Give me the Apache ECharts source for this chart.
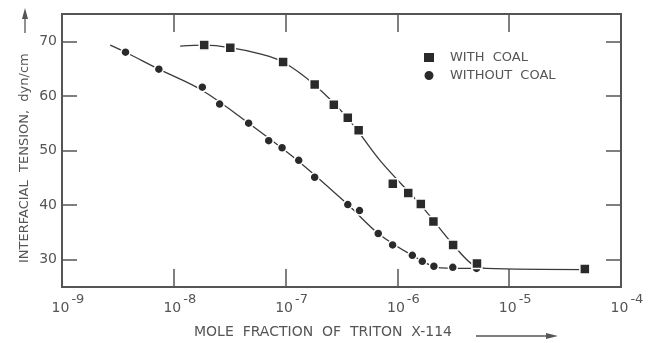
<!DOCTYPE html>
<html>
<head>
<meta charset="utf-8">
<script src="https://cdn.jsdelivr.net/npm/echarts@6/dist/echarts.min.js"></script>
<style>
  html, body { margin: 0; padding: 0; background: #fff; }
  #chart { width: 648px; height: 343px; }
</style>
</head>
<body>
<div id="chart"></div>
<script>
// measured points (mole fraction, dyn/cm)
var withCoalX = [1.87e-8, 3.2e-8, 9.5e-8, 1.82e-7, 2.7e-7, 3.6e-7, 4.5e-7, 9.1e-7, 1.25e-6, 1.62e-6, 2.1e-6, 3.15e-6, 5.15e-6, 4.75e-5];
var withCoalY = [69.3, 68.8, 66.2, 62.1, 58.4, 56.0, 53.7, 43.9, 42.2, 40.2, 37.0, 32.7, 29.3, 28.3];

var withoutCoalX = [3.7e-9, 7.35e-9, 1.8e-8, 2.57e-8, 4.67e-8, 7.06e-8, 9.3e-8, 1.31e-7, 1.82e-7, 3.6e-7, 4.58e-7, 6.74e-7, 9.06e-7, 1.36e-6, 1.67e-6, 2.12e-6, 3.13e-6, 5.1e-6];
var withoutCoalY = [68.0, 64.9, 61.6, 58.5, 55.0, 51.8, 50.5, 48.2, 45.1, 40.1, 39.0, 34.8, 32.7, 30.8, 29.7, 28.8, 28.6, 28.4];

// hand-drawn fitted curves
var withCoalCurveX = [1.14e-8, 1.87e-8, 3.2e-8, 5.9e-8, 9.5e-8, 1.82e-7, 3.6e-7, 7.1e-7, 1.62e-6, 3.14e-6, 4.7e-6, 6.2e-6, 4.75e-5];
var withCoalCurveY = [69.1, 69.3, 68.85, 67.7, 66.2, 62.0, 55.9, 48.0, 40.0, 32.8, 29.1, 28.4, 28.2];

var withoutCoalCurveX = [2.7e-9, 3.7e-9, 7.35e-9, 1.8e-8, 4.67e-8, 1.31e-7, 3.6e-7, 6.74e-7, 1.36e-6, 2.44e-6, 5.1e-6];
var withoutCoalCurveY = [69.3, 68.0, 64.9, 61.0, 55.0, 48.0, 40.1, 34.8, 30.8, 28.5, 28.4];

var yTicks = [30, 40, 50, 60, 70];

function pairs(xs, ys) {
    return xs.map(function (x, i) { return [x, ys[i]]; });
}

var chartDom = document.getElementById('chart');
var chart = echarts.init(chartDom);
var ink = '#2a2a2a';
var grey = '#555';
var font = 'DejaVu Sans';

var option = {
    animation: false,
    textStyle: { fontFamily: font, color: grey },
    grid: {
        left: 62, right: 27, top: 14, bottom: 56,
        show: true,
        borderColor: grey,
        borderWidth: 2
    },
    legend: {
        data: ['WITH  COAL', 'WITHOUT  COAL'],
        orient: 'vertical',
        left: 422,
        top: 51,
        padding: 0,
        itemWidth: 12,
        itemHeight: 11,
        itemGap: 5,
        textStyle: { color: grey, fontSize: 13, padding: [0, 0, 0, 10] }
    },
    xAxis: [{
        type: 'log',
        logBase: 10,
        min: 1e-9,
        max: 1e-4,
        axisLine: { show: false },
        splitLine: { show: false },
        axisTick: { inside: true, length: 18, lineStyle: { color: grey, width: 1.5 } },
        axisLabel: {
            margin: 6,
            formatter: function (v) {
                var e = Math.round(Math.log10(v));
                return '{b|10}{e|' + e + '}';
            },
            rich: {
                b: { fontSize: 14, color: grey, fontFamily: font, lineHeight: 22, verticalAlign: 'bottom', padding: [0, 2, 0, 12] },
                e: { fontSize: 13, color: grey, fontFamily: font, verticalAlign: 'top' }
            }
        }
    }, {
        type: 'log',
        logBase: 10,
        min: 1e-9,
        max: 1e-4,
        position: 'top',
        axisLine: { show: false },
        splitLine: { show: false },
        axisLabel: { show: false },
        axisTick: { inside: true, length: 18, lineStyle: { color: grey, width: 1.5 } }
    }],
    yAxis: [{
        type: 'value',
        min: 25,
        max: 75,
        axisLine: { show: false },
        splitLine: { show: false },
        axisTick: { inside: true, length: 15, customValues: yTicks, lineStyle: { color: grey, width: 1.5 } },
        axisLabel: { customValues: yTicks, fontSize: 14, color: grey, margin: 5 }
    }, {
        type: 'value',
        min: 25,
        max: 75,
        position: 'right',
        axisLine: { show: false },
        splitLine: { show: false },
        axisLabel: { show: false },
        axisTick: { inside: true, length: 15, customValues: yTicks, lineStyle: { color: grey, width: 1.5 } }
    }],
    series: [{
        name: 'with coal curve',
        type: 'line',
        data: pairs(withCoalCurveX, withCoalCurveY),
        smooth: 0.35,
        showSymbol: false,
        silent: true,
        lineStyle: { color: '#3a3a3a', width: 1.3 },
        z: 2
    }, {
        name: 'without coal curve',
        type: 'line',
        data: pairs(withoutCoalCurveX, withoutCoalCurveY),
        smooth: 0.35,
        showSymbol: false,
        silent: true,
        lineStyle: { color: '#3a3a3a', width: 1.3 },
        z: 2
    }, {
        name: 'WITH  COAL',
        type: 'scatter',
        data: pairs(withCoalX, withCoalY),
        symbol: 'rect',
        symbolSize: 10,
        itemStyle: { color: ink, borderColor: '#fff', borderWidth: 1.5, opacity: 1 },
        z: 4
    }, {
        name: 'WITHOUT  COAL',
        type: 'scatter',
        data: pairs(withoutCoalX, withoutCoalY),
        symbol: 'circle',
        symbolSize: 9,
        itemStyle: { color: ink, borderColor: '#fff', borderWidth: 1.5, opacity: 1 },
        z: 3
    }],
    graphic: [{
        type: 'text',
        left: 194,
        top: 325,
        style: { text: 'MOLE  FRACTION  OF  TRITON  X-114', fill: grey, fontSize: 14, fontFamily: font }
    }, {
        type: 'line',
        shape: { x1: 476, y1: 336, x2: 550, y2: 336 },
        style: { stroke: grey, lineWidth: 1.3 }
    }, {
        type: 'polygon',
        shape: { points: [[558, 336], [546, 333], [546, 339]] },
        style: { fill: grey }
    }, {
        type: 'text',
        x: 18,
        y: 263,
        rotation: Math.PI / 2,
        style: { text: 'INTERFACIAL  TENSION,  dyn/cm', fill: grey, fontSize: 13, fontFamily: font, verticalAlign: 'top' }
    }, {
        type: 'line',
        shape: { x1: 25, y1: 33, x2: 25, y2: 17 },
        style: { stroke: grey, lineWidth: 1.3 }
    }, {
        type: 'polygon',
        shape: { points: [[25, 8], [22, 19], [28, 19]] },
        style: { fill: grey }
    }]
};

chart.setOption(option);
</script>
</body>
</html>
